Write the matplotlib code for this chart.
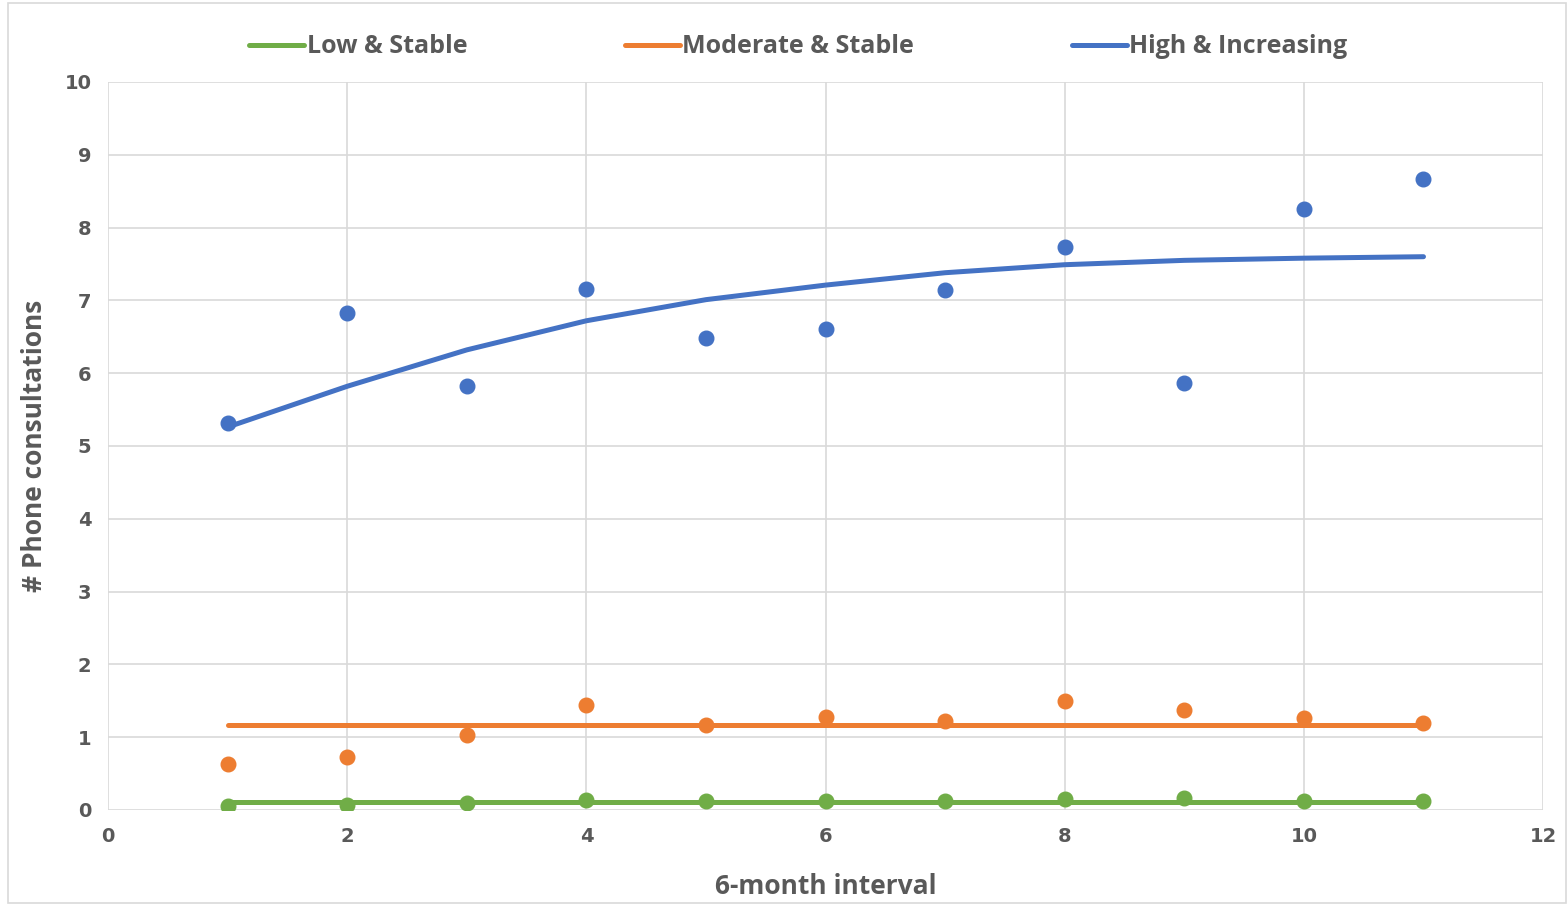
import numpy as np
import matplotlib.pyplot as plt
from matplotlib.patches import Rectangle

# Données
intervals = [1, 2, 3, 4, 5, 6, 7, 8, 9, 10, 11]

low_obs = [0.05, 0.07, 0.10, 0.14, 0.13, 0.12, 0.12, 0.15, 0.17, 0.12, 0.12]
low_fit = [0.11, 0.11, 0.11, 0.11, 0.11, 0.11, 0.11, 0.11, 0.11, 0.11, 0.11]

mod_obs = [0.63, 0.73, 1.03, 1.44, 1.17, 1.28, 1.22, 1.50, 1.37, 1.26, 1.20]
mod_fit = [1.17, 1.17, 1.17, 1.17, 1.17, 1.17, 1.17, 1.17, 1.17, 1.17, 1.17]

high_obs = [5.32, 6.83, 5.82, 7.16, 6.48, 6.61, 7.14, 7.73, 5.87, 8.26, 8.67]
high_fit = [5.26, 5.82, 6.32, 6.72, 7.01, 7.21, 7.38, 7.49, 7.55, 7.58, 7.60]

series = [
    ("Low & Stable", low_obs, low_fit, "#70ad47"),
    ("Moderate & Stable", mod_obs, mod_fit, "#ed7d31"),
    ("High & Increasing", high_obs, high_fit, "#4472c4"),
]

fig = plt.figure(figsize=(15.68, 9.06), dpi=100)
ax = fig.add_axes([0.0689, 0.106, 0.9152, 0.8035])

# Bordure du graphique
fig.patches.append(Rectangle((0.005, 0.003), 0.994, 0.994, transform=fig.transFigure,
                             fill=False, edgecolor="#d9d9d9", linewidth=1.2))

for label, obs, fit, color in series:
    ax.plot(intervals, fit, color=color, linewidth=3.6, solid_capstyle="round",
            label=label, zorder=3)
    ax.plot(intervals, obs, linestyle="none", marker="o", markersize=10.5,
            color=color, zorder=4)

ax.set_xlim(0, 12)
ax.set_ylim(0, 10)
ax.set_xticks(np.arange(0, 13, 2))
ax.set_yticks(np.arange(0, 11, 1))
ax.grid(True, color="#d9d9d9", linewidth=1.2)
ax.set_axisbelow(True)
for side in ["top", "right", "left", "bottom"]:
    ax.spines[side].set_visible(False)
ax.tick_params(length=0, colors="#595959", labelsize=14, pad=12)
for t in ax.get_xticklabels() + ax.get_yticklabels():
    t.set_fontweight("bold")
    t.set_family("DejaVu Sans")

ax.set_xlabel("6-month interval", fontsize=19, fontweight="bold", color="#595959",
              family="Open Sans", labelpad=20)
ax.set_ylabel("# Phone consultations", fontsize=19, fontweight="bold", color="#595959",
              family="Open Sans", labelpad=12)

leg = ax.legend(loc="lower center", bbox_to_anchor=(0.481, 1.0), ncol=3, frameon=False,
                handlelength=2.2, handletextpad=0.1, columnspacing=6.3,
                prop={"family": "Open Sans", "weight": "bold", "size": 18})
for t in leg.get_texts():
    t.set_color("#595959")

fig.savefig("out.png", dpi=100)
